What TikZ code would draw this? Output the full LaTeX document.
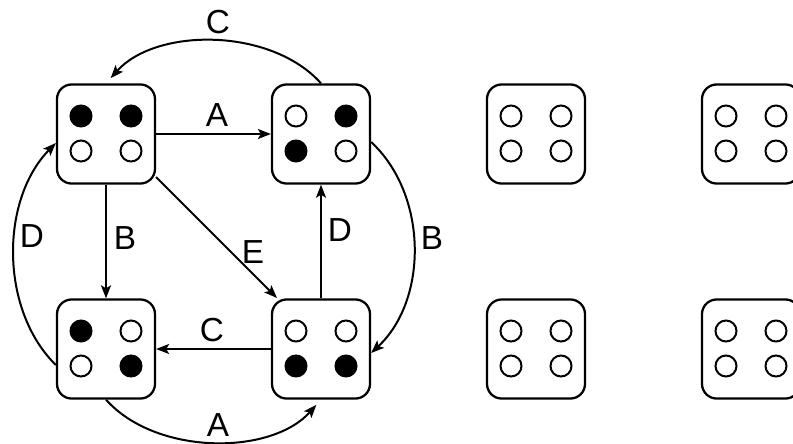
\documentclass[tikz,border=0pt]{standalone}
\usepackage{fontspec}
\setmainfont{Liberation Sans}
\usetikzlibrary{calc,arrows.meta}

\tikzset{
  die/.style={draw=black, line width=1.7pt, rounded corners=11pt,
    minimum width=73.5pt, minimum height=74.3pt, inner sep=0pt},
  pip/.style={draw=black, line width=1.5pt},
  arr/.style={draw=black, line width=1.5pt,
    -{Stealth[length=9.75pt, width=7.5pt, inset=2.2pt]}},
  lbl/.style={font=\fontsize{25}{30}\selectfont, inner sep=0pt, anchor=center},
}

% four pips of a die: #1 = die node, #2..#5 = fill of
% top-left, top-right, bottom-left, bottom-right pip
\newcommand\pipset[5]{%
  \path[pip, fill=#2] ($(#1.center)+(-25,-18)$) circle[radius=10.5];
  \path[pip, fill=#3] ($(#1.center)+(25,-18)$) circle[radius=10.5];
  \path[pip, fill=#4] ($(#1.center)+(-25,17)$) circle[radius=10.5];
  \path[pip, fill=#5] ($(#1.center)+(25,17)$) circle[radius=10.5];
}

\begin{document}
\begin{tikzpicture}[x=0.75pt, y=-0.75pt]
\useasboundingbox (0,0) rectangle (793,443);
\clip (0,0) rectangle (793,443);

% the four connected states
\node[die] (TL) at (106,134) {};
\node[die] (TR) at (321,134) {};
\node[die] (BL) at (106,349) {};
\node[die] (BR) at (321,349) {};
% the unused states
\node[die] (U1) at (536,134) {};
\node[die] (U2) at (751,134) {};
\node[die] (U3) at (536,349) {};
\node[die] (U4) at (751,349) {};

\pipset{TL}{black}{black}{white}{white}
\pipset{TR}{white}{black}{black}{white}
\pipset{BL}{black}{white}{white}{black}
\pipset{BR}{white}{white}{black}{black}
\pipset{U1}{white}{white}{white}{white}
\pipset{U2}{white}{white}{white}{white}
\pipset{U3}{white}{white}{white}{white}
\pipset{U4}{white}{white}{white}{white}

% transitions
\draw[arr] (TL.east) -- (TR.west);
\draw[arr] (TL.south) -- (BL.north);
\draw[arr] (BR.north) -- (TR.south);
\draw[arr] (BR.west) -- (BL.east);
\draw[arr] ($(TL.center)+(50,43)$) -- ($(BR.center)+(-44,-51)$);
\draw[arr, shorten >=5.25pt] (TR.north) .. controls +(-50,-56) and +(50,-56) .. (TL.north);
\draw[arr, shorten >=5.25pt] (BL.south) .. controls +(50,56) and +(-50,56) .. (BR.south);
\draw[arr] ($(BL.west)+(0,16)$) .. controls +(-56,-55) and +(-56,57) .. ($(TL.west)+(0,9)$);
\draw[arr] ($(TR.east)+(0,8)$) .. controls +(57,53) and +(57,-53) .. ($(BR.east)+(0,4)$);

% transition labels
\node[lbl] (lA1) at (217,115) {A};
\node[lbl] (lC1) at (218,22) {C};
\node[lbl] (lB1) at (125,238) {B};
\node[lbl] (lD1) at (32,236) {D};
\node[lbl] (lE)  at (253,252) {E};
\node[lbl] (lD2) at (340,230) {D};
\node[lbl] (lB2) at (432,238) {B};
\node[lbl] (lC2) at (212,330) {C};
\node[lbl] (lA2) at (218,425) {A};
\end{tikzpicture}
\end{document}
